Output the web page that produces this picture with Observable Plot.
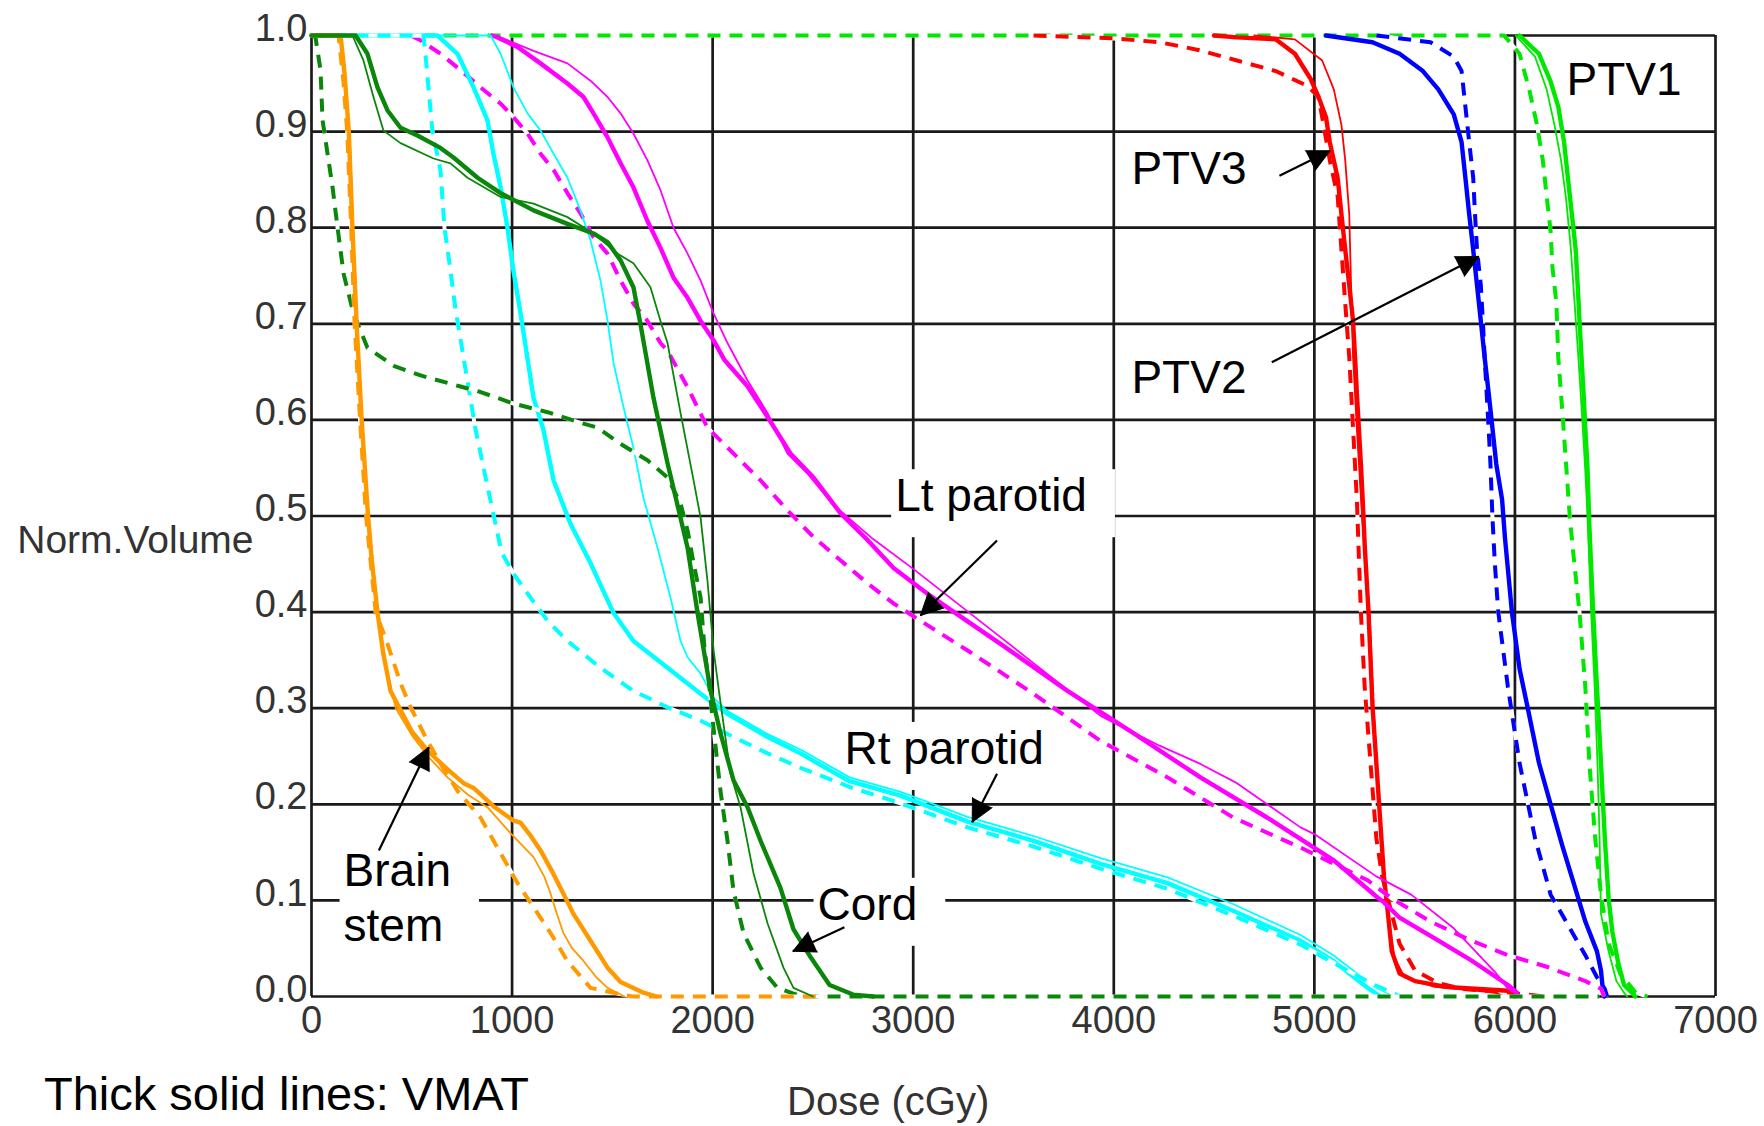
<!DOCTYPE html>
<html><head><meta charset="utf-8">
<script src="https://cdn.jsdelivr.net/npm/d3@7"></script>
<script src="https://cdn.jsdelivr.net/npm/@observablehq/plot@0.6"></script>
<style>
html,body{margin:0;padding:0;background:#fff;}
#wrap{position:relative;width:1764px;height:1126px;overflow:hidden;background:#fff;}
#chart svg{display:block;}
#below{position:relative;height:76px;}
#caption{position:absolute;left:44px;top:20px;font-family:"Liberation Sans",Arial,sans-serif;font-size:47px;line-height:1;color:#000;white-space:nowrap;}
#xlabel{position:absolute;left:787px;top:31px;font-family:"Liberation Sans",Arial,sans-serif;font-size:40px;line-height:1;color:#333;white-space:nowrap;}
</style></head>
<body>
<div id="wrap"><div id="chart"></div><div id="below"><span id="caption">Thick solid lines: VMAT</span><span id="xlabel">Dose (cGy)</span></div></div>
<script>
// ---- tick values ----
const xTicks = [0, 1000, 2000, 3000, 4000, 5000, 6000, 7000];
const yTicks = [0, 0.1, 0.2, 0.3, 0.4, 0.5, 0.6, 0.7, 0.8, 0.9, 1.0];

// ---- DVH curves: [dose (cGy), normalized volume] ----
const brainVmat = [[0,1],[145,1],[165,0.96],[186,0.9],[204,0.8],[225,0.7],[250,0.6],[282,0.5],[300,0.455],[329,0.4],[357,0.358],[394,0.318],[444,0.298],[500,0.276],[578,0.256],[680,0.236],[758,0.222],[808,0.217],[907,0.198],[1007,0.183],[1042,0.181],[1090,0.168],[1142,0.152],[1200,0.13],[1256,0.107],[1306,0.086],[1391,0.058],[1476,0.03],[1541,0.015],[1655,0.004],[1720,0]];
const brainThin = [[0,1],[145,1],[170,0.95],[190,0.9],[208,0.8],[228,0.7],[253,0.6],[284,0.5],[331,0.4],[375,0.34],[420,0.3],[500,0.272],[580,0.25],[678,0.228],[780,0.21],[877,0.197],[992,0.17],[1107,0.145],[1160,0.125],[1192,0.107],[1225,0.085],[1256,0.066],[1300,0.05],[1356,0.037],[1420,0.02],[1476,0.009],[1560,0]];
const brainDot = [[0,1],[135,1],[160,0.95],[178,0.9],[198,0.8],[215,0.7],[242,0.6],[272,0.5],[320,0.4],[379,0.367],[444,0.326],[494,0.301],[578,0.266],[650,0.24],[728,0.214],[843,0.186],[943,0.149],[1027,0.118],[1107,0.093],[1192,0.066],[1276,0.037],[1391,0.009],[1526,0.003],[1600,0],[2560,0]];

const cordVmat = [[0,1],[220,1],[279,0.981],[329,0.946],[379,0.922],[444,0.904],[528,0.896],[643,0.883],[708,0.873],[828,0.852],[943,0.836],[1107,0.818],[1276,0.804],[1406,0.794],[1476,0.785],[1541,0.766],[1605,0.738],[1640,0.7],[1705,0.623],[1775,0.555],[1840,0.498],[1875,0.467],[1925,0.399],[1960,0.355],[1990,0.318],[2039,0.274],[2104,0.225],[2174,0.197],[2239,0.162],[2338,0.113],[2403,0.07],[2488,0.041],[2583,0.012],[2700,0.002],[2800,0]];
const cordThin = [[0,1],[204,1],[259,0.974],[309,0.936],[359,0.901],[444,0.888],[608,0.872],[693,0.867],[778,0.852],[943,0.832],[1107,0.825],[1276,0.811],[1406,0.794],[1526,0.773],[1605,0.763],[1690,0.738],[1740,0.703],[1775,0.68],[1840,0.607],[1905,0.537],[1940,0.498],[1974,0.433],[2005,0.36],[2030,0.32],[2054,0.284],[2089,0.232],[2139,0.197],[2204,0.128],[2274,0.076],[2353,0.03],[2403,0.009],[2500,0]];
const cordDot = [[0,1],[20,0.998],[45,0.964],[55,0.912],[80,0.877],[105,0.842],[130,0.8],[160,0.752],[209,0.711],[279,0.675],[413,0.656],[548,0.646],[738,0.635],[843,0.629],[1007,0.617],[1177,0.608],[1341,0.597],[1426,0.592],[1541,0.575],[1675,0.558],[1775,0.54],[1840,0.513],[1875,0.485],[1905,0.451],[1940,0.415],[1960,0.36],[1980,0.33],[2004,0.28],[2039,0.214],[2074,0.162],[2104,0.11],[2154,0.066],[2239,0.03],[2323,0.009],[2403,0.003],[2450,0],[6420,0]];

const rtParVmat = [[0,1],[628,1],[728,0.981],[808,0.946],[877,0.912],[907,0.877],[943,0.842],[977,0.8],[1007,0.755],[1042,0.711],[1065,0.68],[1107,0.623],[1157,0.589],[1207,0.537],[1291,0.492],[1391,0.451],[1506,0.399],[1605,0.37],[1775,0.342],[1940,0.315],[2074,0.294],[2274,0.27],[2438,0.253],[2587,0.235],[2683,0.224],[2937,0.209],[3271,0.182],[3600,0.162],[3934,0.138],[4268,0.118],[4597,0.089],[4931,0.058],[5095,0.037],[5265,0.009],[5330,0]];
const rtParThin = [[0,1],[893,1],[943,0.981],[1007,0.946],[1077,0.919],[1142,0.901],[1207,0.877],[1276,0.852],[1341,0.818],[1391,0.787],[1441,0.745],[1476,0.703],[1506,0.659],[1556,0.613],[1605,0.571],[1655,0.519],[1725,0.467],[1790,0.415],[1840,0.37],[1875,0.353],[1940,0.336],[2004,0.311],[2074,0.297],[2274,0.273],[2438,0.257],[2683,0.228],[2937,0.213],[3271,0.187],[3600,0.167],[3934,0.144],[4268,0.124],[4597,0.096],[4931,0.064],[5095,0.043],[5300,0.01],[5400,0]];
const rtParDot = [[0,1],[558,1],[568,0.981],[583,0.946],[603,0.9],[643,0.86],[663,0.8],[693,0.755],[718,0.715],[758,0.665],[818,0.59],[873,0.535],[948,0.462],[1007,0.44],[1092,0.415],[1177,0.391],[1276,0.37],[1441,0.342],[1605,0.318],[1775,0.301],[1940,0.287],[2104,0.27],[2274,0.253],[2438,0.238],[2683,0.218],[2937,0.201],[3271,0.176],[3600,0.156],[3934,0.133],[4268,0.112],[4597,0.084],[4931,0.054],[5095,0.035],[5300,0.012],[5430,0]];

const ltParVmat = [[900,1],[928,0.998],[1027,0.988],[1142,0.971],[1276,0.95],[1356,0.936],[1406,0.919],[1476,0.894],[1541,0.867],[1605,0.842],[1675,0.807],[1740,0.779],[1805,0.748],[1875,0.727],[1940,0.703],[2004,0.683],[2060,0.662],[2174,0.635],[2274,0.603],[2388,0.565],[2503,0.54],[2637,0.503],[2772,0.475],[2902,0.446],[3071,0.419],[3435,0.367],[3769,0.318],[4098,0.274],[4432,0.228],[4766,0.186],[5095,0.142],[5315,0.103],[5347,0.098],[5425,0.082],[5579,0.063],[5772,0.039],[5965,0.012],[6010,0.004]];
const ltParThin = [[930,1],[943,0.998],[1107,0.984],[1276,0.971],[1391,0.953],[1476,0.936],[1541,0.919],[1605,0.898],[1675,0.87],[1740,0.839],[1805,0.8],[1875,0.773],[1940,0.745],[2004,0.711],[2074,0.68],[2174,0.641],[2274,0.607],[2373,0.565],[2473,0.544],[2600,0.512],[2800,0.476],[3000,0.445],[3435,0.374],[3934,0.292],[4228,0.261],[4432,0.242],[4614,0.222],[4931,0.176],[5000,0.169],[5309,0.125],[5483,0.106],[5695,0.071],[5907,0.024],[5965,0.008],[6005,0.003]];
const ltParDot = [[494,1],[543,0.995],[643,0.981],[743,0.964],[843,0.946],[943,0.929],[1007,0.915],[1077,0.898],[1142,0.877],[1207,0.86],[1276,0.836],[1341,0.815],[1406,0.79],[1476,0.773],[1541,0.745],[1605,0.721],[1675,0.703],[1740,0.68],[1775,0.672],[1875,0.634],[1974,0.592],[2104,0.565],[2239,0.537],[2373,0.506],[2503,0.478],[2637,0.454],[2772,0.43],[2902,0.409],[3036,0.391],[3271,0.36],[3600,0.315],[3934,0.266],[4268,0.228],[4597,0.186],[4931,0.155],[5265,0.121],[5386,0.102],[5579,0.078],[5772,0.059],[5965,0.043],[6158,0.031],[6351,0.016],[6429,0.008],[6445,0]];

const ptv3Vmat = [[4500,1],[4614,0.998],[4807,0.996],[4903,0.981],[4981,0.955],[5019,0.937],[5058,0.915],[5077,0.889],[5116,0.852],[5135,0.814],[5154,0.777],[5174,0.74],[5193,0.703],[5203,0.665],[5212,0.628],[5222,0.591],[5232,0.554],[5241,0.517],[5251,0.47],[5270,0.4],[5290,0.302],[5309,0.243],[5328,0.184],[5347,0.125],[5367,0.086],[5386,0.047],[5425,0.024],[5502,0.016],[5656,0.01],[5965,0.006],[6000,0]];
const ptv3Thin = [[4700,1],[4903,0.996],[5039,0.974],[5097,0.944],[5135,0.907],[5154,0.87],[5174,0.814],[5183,0.74],[5193,0.665],[5212,0.591],[5232,0.52],[5251,0.46],[5275,0.4],[5295,0.3],[5312,0.243],[5330,0.184],[5350,0.125],[5372,0.08],[5400,0.04],[5450,0.02],[5600,0.01],[5900,0.004],[5950,0]];
const ptv3Dot = [[3600,1],[4000,0.997],[4228,0.993],[4421,0.985],[4614,0.974],[4807,0.963],[4961,0.948],[5019,0.937],[5039,0.915],[5077,0.87],[5116,0.833],[5135,0.777],[5154,0.721],[5174,0.665],[5193,0.591],[5212,0.517],[5222,0.457],[5232,0.4],[5251,0.322],[5280,0.243],[5309,0.165],[5338,0.125],[5386,0.086],[5425,0.055],[5502,0.027],[5618,0.014],[5734,0.008],[5965,0.004],[6150,0]];

const ptv2Vmat = [[5058,1],[5290,0.993],[5425,0.981],[5541,0.963],[5618,0.944],[5695,0.918],[5734,0.889],[5753,0.852],[5772,0.814],[5792,0.777],[5811,0.74],[5830,0.703],[5849,0.665],[5869,0.628],[5888,0.591],[5907,0.554],[5936,0.517],[5950,0.478],[5985,0.4],[6023,0.341],[6062,0.302],[6120,0.243],[6178,0.2],[6236,0.157],[6293,0.118],[6351,0.078],[6409,0.047],[6429,0.027],[6438,0.008],[6445,0]];
const ptv2Dot = [[5309,1],[5579,0.993],[5695,0.978],[5734,0.963],[5753,0.926],[5772,0.889],[5792,0.852],[5801,0.814],[5811,0.777],[5830,0.74],[5840,0.703],[5849,0.665],[5859,0.628],[5869,0.591],[5878,0.554],[5888,0.498],[5900,0.45],[5917,0.4],[5965,0.322],[6023,0.243],[6100,0.165],[6178,0.106],[6274,0.071],[6351,0.043],[6409,0.02],[6448,0.008],[6460,0]];

const ptv1Vmat = [[6023,1],[6120,0.981],[6178,0.952],[6216,0.926],[6245,0.889],[6264,0.852],[6284,0.814],[6303,0.777],[6313,0.74],[6322,0.703],[6332,0.665],[6342,0.628],[6351,0.591],[6361,0.554],[6371,0.49],[6390,0.4],[6409,0.322],[6429,0.243],[6448,0.165],[6467,0.102],[6486,0.067],[6515,0.035],[6544,0.012],[6583,0.004],[6600,0]];
const ptv1Thin = [[6004,1],[6100,0.978],[6158,0.944],[6197,0.907],[6230,0.87],[6255,0.83],[6278,0.78],[6298,0.72],[6318,0.66],[6336,0.6],[6350,0.55],[6362,0.5],[6380,0.4],[6398,0.32],[6412,0.24],[6422,0.165],[6429,0.086],[6467,0.047],[6506,0.016],[6544,0.004],[6560,0]];
const ptv1Dot = [[0,1],[5946,1],[6023,0.981],[6071,0.944],[6110,0.907],[6139,0.87],[6158,0.833],[6178,0.796],[6187,0.759],[6207,0.721],[6216,0.665],[6236,0.61],[6255,0.554],[6274,0.498],[6293,0.457],[6322,0.4],[6351,0.322],[6371,0.243],[6400,0.165],[6429,0.106],[6467,0.055],[6525,0.024],[6602,0.004],[6660,0]];

// ---- annotations ----
const labelText = ["PTV1", "PTV3", "PTV2", "Lt parotid", "Rt parotid", "Cord", "Brain\nstem"];
const labelDose = [6257, 4088, 4088, 2910, 2657, 2523, 160];
const labelVol  = [0.9376, 0.845, 0.6275, 0.505, 0.242, 0.0798, 0.058];
const labelBoxed = [false, false, false, true, true, true, true];

const arrowFromDose = [4826, 4788, 3418, 3418, 2657, 336];
const arrowFromVol  = [0.854, 0.660, 0.4745, 0.2317, 0.072, 0.152];
const arrowToDose   = [5078, 5820, 3036, 3294, 2400, 585];
const arrowToVol    = [0.880, 0.770, 0.3965, 0.1814, 0.047, 0.2594];

// ---- styling (drawing order) ----
const C = {brain: "#ff9900", cord: "#0a870a", rt: "#00ffff", lt: "#ff00ff", ptv3: "#ff0000", ptv2: "#0000ff", ptv1: "#00e800"};
const series = [
  [ptv1Dot, C.ptv1, "dot"], [ptv1Thin, C.ptv1, "thin"], [ptv1Vmat, C.ptv1, "thick"],
  [ptv2Dot, C.ptv2, "dot"], [ptv2Vmat, C.ptv2, "thick"],
  [ptv3Dot, C.ptv3, "dot"], [ptv3Thin, C.ptv3, "thin"], [ptv3Vmat, C.ptv3, "thick"],
  [ltParDot, C.lt, "dot"], [ltParThin, C.lt, "thin"], [ltParVmat, C.lt, "thick"],
  [rtParVmat, C.rt, "thick"], [rtParThin, C.rt, "thin"], [rtParDot, C.rt, "dot"],
  [cordDot, C.cord, "dot"],
  [brainDot, C.brain, "dot"], [brainThin, C.brain, "thin"], [brainVmat, C.brain, "thick"],
  [cordThin, C.cord, "thin"], [cordVmat, C.cord, "thick"]
];

const W = 1764, H = 1050, ML = 311, MR = 49, MT = 35, MB = 54;
const kx = (W - ML - MR) / 7000, ky = (H - MT - MB) / 1;

const curveMarks = [];
for (const [pts, color, kind] of series) {
  const acc = {x: d => d[0], y: d => d[1], curve: "linear"};
  if (kind === "dot") {
    curveMarks.push(Plot.line(pts, {...acc, stroke: "white", strokeWidth: 4, strokeLinecap: "butt"}));
    curveMarks.push(Plot.line(pts, {...acc, stroke: color, strokeWidth: 4, strokeDasharray: "13,9", strokeLinecap: "butt"}));
  } else if (kind === "thin") {
    curveMarks.push(Plot.line(pts, {...acc, stroke: color, strokeWidth: 1.8}));
  } else {
    curveMarks.push(Plot.line(pts, {...acc, stroke: color, strokeWidth: 4.4}));
  }
}

const labels = labelText.map((t, i) => ({t, x: labelDose[i], y: labelVol[i]}));
const arrows = arrowFromDose.map((d, i) => {
  const dxp = (arrowToDose[i] - d) * kx, dyp = -(arrowToVol[i] - arrowFromVol[i]) * ky;
  return {x1: d, y1: arrowFromVol[i], x2: arrowToDose[i], y2: arrowToVol[i], rot: Math.atan2(dyp, dxp) * 180 / Math.PI + 90};
});

const font = '"Liberation Sans", Arial, sans-serif';
const plot = Plot.plot({
  width: W, height: H, marginLeft: ML, marginRight: MR, marginTop: MT, marginBottom: MB,
  x: {domain: [0, 7000]}, y: {domain: [0, 1]},
  style: {fontFamily: font, background: "white", overflow: "visible"},
  marks: [
    Plot.gridX(xTicks, {stroke: "#1a1a1a", strokeOpacity: 1, strokeWidth: 2.7}),
    Plot.gridY(yTicks, {stroke: "#1a1a1a", strokeOpacity: 1, strokeWidth: 2.7}),
    ...curveMarks,
    Plot.link(arrows, {x1: "x1", y1: "y1", x2: "x2", y2: "y2", stroke: "black", strokeWidth: 2.2}),
    Plot.vector(arrows, {x: "x2", y: "y2", rotate: "rot", length: 22, r: 11, shape: "spike", anchor: "end", fill: "black", stroke: "black", strokeWidth: 1}),
    Plot.text(labels, {x: "x", y: "y", text: "t", textAnchor: "start", lineAnchor: "bottom", lineHeight: 1.2, fontSize: 46, fill: "black"}),
    Plot.axisX(xTicks, {tickSize: 0, tickPadding: 10, fontSize: 38, color: "#333", label: null, tickFormat: d => String(d)}),
    Plot.axisY(yTicks, {tickSize: 0, tickPadding: 4, fontSize: 38, color: "#333", label: null, tickFormat: d3.format(".1f"), dy: -7}),
    Plot.text(["Norm.Volume"], {frameAnchor: "left", textAnchor: "end", lineAnchor: "bottom", dx: -58, dy: 36.5, fontSize: 39, fill: "#333"})
  ]
});
document.getElementById("chart").appendChild(plot);

// white boxes behind boxed annotation texts (hide gridlines like the original text boxes)
const svg = plot.tagName.toLowerCase() === "svg" ? plot : plot.querySelector("svg");
const sb = svg.getBoundingClientRect();
const boxedKeys = new Set(labelText.filter((t, i) => labelBoxed[i]).map(t => t.replace(/\n/g, "")));
const NS = "http://www.w3.org/2000/svg";
const boxG = document.createElementNS(NS, "g");
for (const el of svg.querySelectorAll("text")) {
  if (!boxedKeys.has(el.textContent)) continue;
  const r = el.getBoundingClientRect();
  const rect = document.createElementNS(NS, "rect");
  rect.setAttribute("x", r.left - sb.left - 4);
  rect.setAttribute("y", r.top - sb.top);
  rect.setAttribute("width", r.width + 32);
  rect.setAttribute("height", r.height + 16);
  rect.setAttribute("fill", "white");
  boxG.appendChild(rect);
}
const grids = svg.querySelectorAll('g[aria-label="x-grid"], g[aria-label="y-grid"]');
if (grids.length) grids[grids.length - 1].after(boxG); else svg.appendChild(boxG);
</script>
</body></html>
